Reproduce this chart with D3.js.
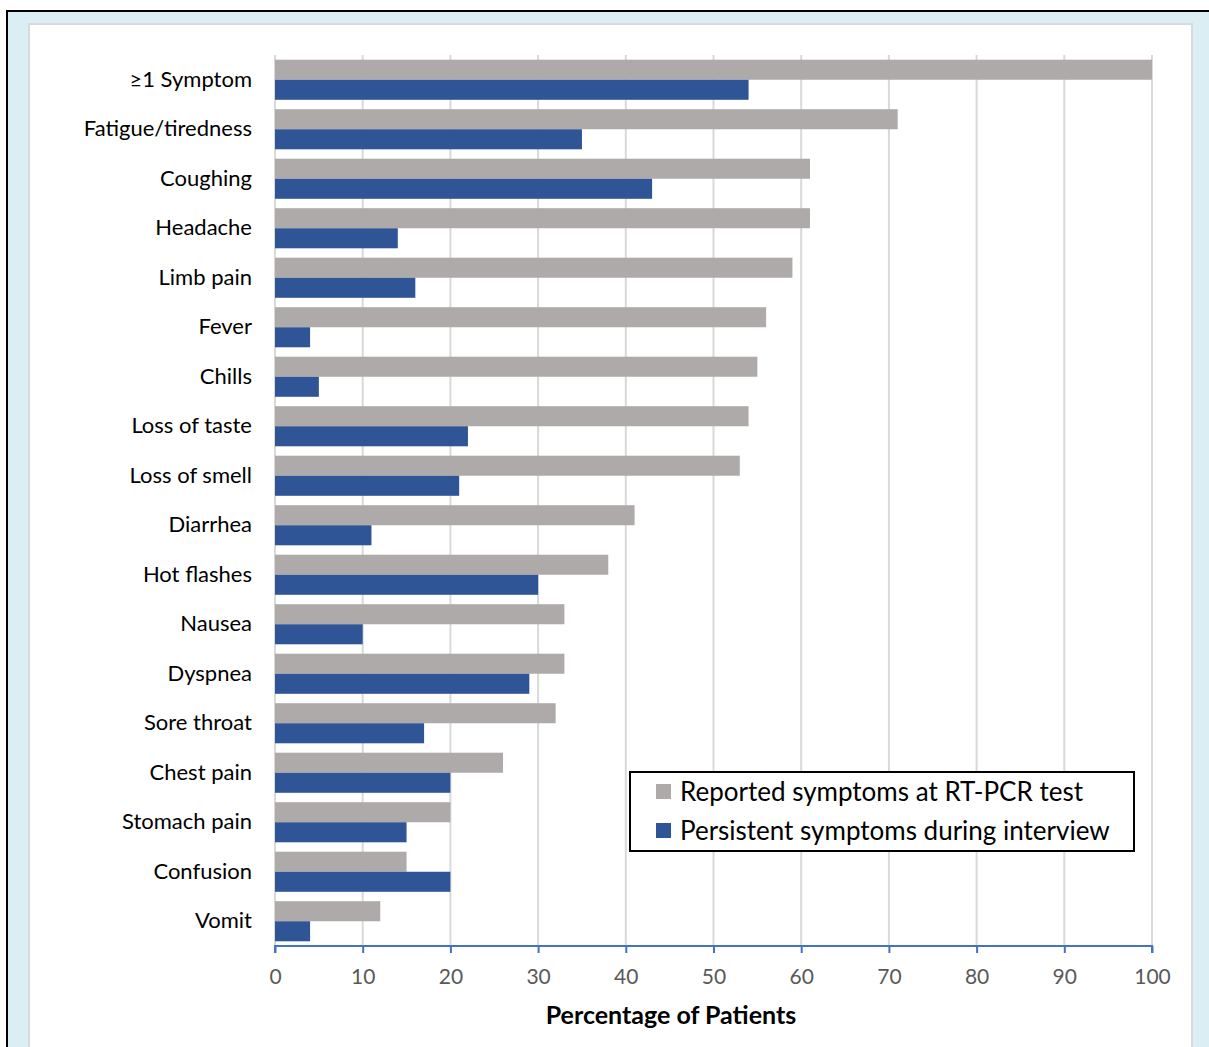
<!DOCTYPE html>
<html>
<head>
<meta charset="utf-8">
<script src="https://cdn.jsdelivr.net/npm/d3@7"></script>
<style>
html,body{margin:0;padding:0;background:#fff;}
svg{display:block;}
</style>
</head>
<body>
<svg id="chart" width="1209" height="1047"></svg>
<script>
const categories = ["≥1 Symptom","Fatigue/tiredness","Coughing","Headache","Limb pain","Fever","Chills","Loss of taste","Loss of smell","Diarrhea","Hot flashes","Nausea","Dyspnea","Sore throat","Chest pain","Stomach pain","Confusion","Vomit"];
const reported = [100,71,61,61,59,56,55,54,53,41,38,33,33,32,26,20,15,12];
const persistent = [54,35,43,14,16,4,5,22,21,11,30,10,29,17,20,15,20,4];
const seriesNames = ["Reported symptoms at RT-PCR test","Persistent symptoms during interview"];
const seriesColors = ["#aeaaaa","#2f5597"];
const xTicks = [0,10,20,30,40,50,60,70,80,90,100];
const xTitle = "Percentage of Patients";

(function(){
const FONT = "Lato, 'Open Sans', sans-serif";
const svg = d3.select("#chart");

// frame
svg.append("rect").attr("x",7).attr("y",11).attr("width",1240).attr("height",1100)
  .attr("fill","#dbeef4").attr("stroke","#000").attr("stroke-width",2);
svg.append("rect").attr("x",29).attr("y",24).attr("width",1163).attr("height",1100)
  .attr("fill","#fff").attr("stroke","#d9d9d9").attr("stroke-width",2);

const pLeft = 275, pRight = 1152, pTop = 55, pBottom = 946;
const x = d3.scaleLinear().domain([0,100]).range([pLeft,pRight]);
const y = d3.scaleBand().domain(categories).range([pTop,pBottom]).paddingInner(0.19).paddingOuter(0.095);
const inner = d3.scaleBand().domain([0,1]).range([0,y.bandwidth()]);

// gridlines
svg.append("g").selectAll("line").data(xTicks).join("line")
  .attr("x1",d=>x(d)).attr("x2",d=>x(d)).attr("y1",pTop).attr("y2",pBottom)
  .attr("stroke","#d9d9d9").attr("stroke-width",2);

// bars
const data = categories.map((c,i)=>({c, vals:[reported[i],persistent[i]]}));
const g = svg.append("g").selectAll("g").data(data).join("g")
  .attr("transform",d=>`translate(0,${y(d.c)})`);
g.selectAll("rect").data(d=>d.vals.map((v,j)=>({v,j}))).join("rect")
  .attr("x",x(0)).attr("y",d=>inner(d.j)).attr("height",inner.bandwidth())
  .attr("width",d=>x(d.v)-x(0)).attr("fill",d=>seriesColors[d.j]);

// category labels
svg.append("g").selectAll("text").data(categories).join("text")
  .attr("x",252).attr("y",d=>y(d)+y.bandwidth()/2 - 1.5)
  .attr("text-anchor","end").attr("dominant-baseline","central")
  .attr("font-family",FONT).attr("font-size",22).attr("fill","#000").text(d=>d);

// x axis
const xAxis = d3.axisBottom(x).tickValues(xTicks).tickSize(7).tickPadding(16).tickFormat(d3.format("d"));
const ax = svg.append("g").attr("transform",`translate(0,${pBottom})`).call(xAxis);
ax.select(".domain").attr("stroke","#4472c4").attr("stroke-width",2).attr("d",`M${pLeft},7V0H${pRight}V7`);
ax.selectAll(".tick line").attr("stroke","#4472c4").attr("stroke-width",2);
ax.selectAll(".tick text").attr("font-family",FONT).attr("font-size",21).attr("fill","#595959");

svg.append("text").attr("x",671).attr("y",1024).attr("text-anchor","middle")
  .attr("font-family",FONT).attr("font-weight","bold").attr("font-size",25).attr("fill","#000").text(xTitle);

// legend
const lg = svg.append("g").attr("transform","translate(630,772)");
lg.append("rect").attr("width",504).attr("height",79).attr("fill","#fff").attr("stroke","#000").attr("stroke-width",2);
seriesNames.forEach((n,i)=>{
  lg.append("rect").attr("x",26).attr("y",12+i*39).attr("width",15).attr("height",15).attr("fill",seriesColors[i]);
  lg.append("text").attr("x",50).attr("y",19+i*39).attr("dominant-baseline","central")
    .attr("font-family",FONT).attr("font-size",26).attr("fill","#000").text(n);
});
})();
</script>
</body>
</html>
